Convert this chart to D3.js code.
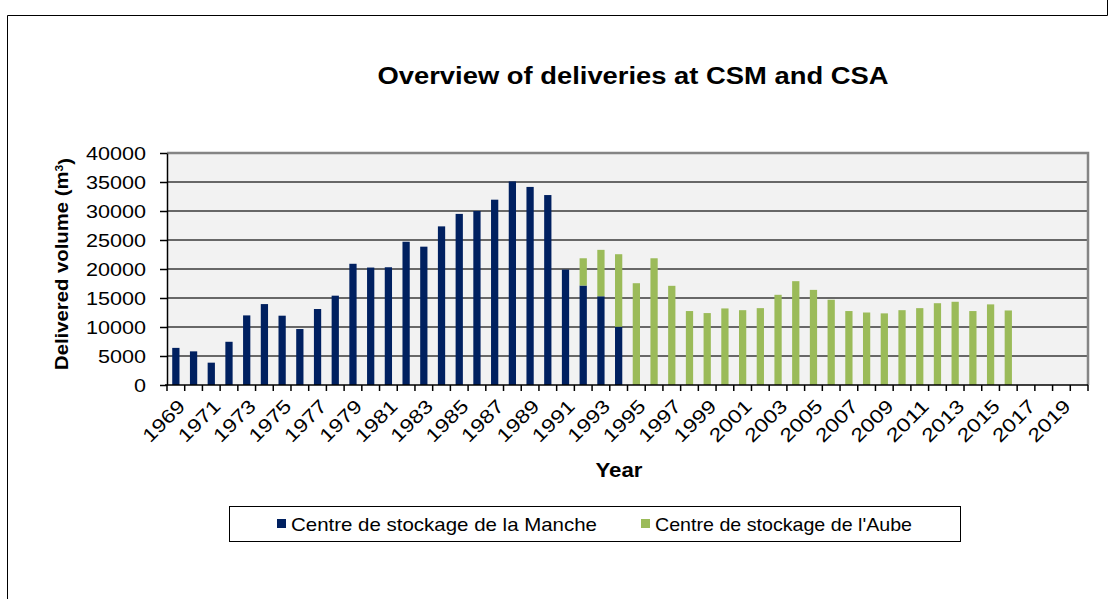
<!DOCTYPE html>
<html>
<head>
<meta charset="utf-8">
<script src="https://cdn.jsdelivr.net/npm/d3@7"></script>
<style>
  html, body { margin: 0; padding: 0; background: #ffffff; }
  svg { display: block; font-family: 'Liberation Sans', Arial, sans-serif; }
</style>
</head>
<body>
<svg id="chart" width="1110" height="599"></svg>
<script>
'use strict';

var years = [
  '1969', '1970', '1971', '1972', '1973', '1974', '1975', '1976', '1977', '1978',
  '1979', '1980', '1981', '1982', '1983', '1984', '1985', '1986', '1987', '1988',
  '1989', '1990', '1991', '1992', '1993', '1994', '1995', '1996', '1997', '1998',
  '1999', '2000', '2001', '2002', '2003', '2004', '2005', '2006', '2007', '2008',
  '2009', '2010', '2011', '2012', '2013', '2014', '2015', '2016', '2017', '2018',
  '2019', '2020'
];

// Centre de stockage de la Manche (CSM), m3
var manche = [
  6400, 5800, 3850, 7450, 12000, 13950, 11950, 9650, 13100, 15400,
  20900, 20250, 20300, 24700, 23850, 27350, 29500, 30000, 31950, 35100,
  34150, 32750, 19900, 17150, 15300, 10050, 0, 0, 0, 0,
  0, 0, 0, 0, 0, 0, 0, 0, 0, 0,
  0, 0, 0, 0, 0, 0, 0, 0, 0, 0,
  0, 0
];

// Centre de stockage de l'Aube (CSA), m3
var aube = [
  0, 0, 0, 0, 0, 0, 0, 0, 0, 0,
  0, 0, 0, 0, 0, 0, 0, 0, 0, 0,
  0, 0, 0, 4700, 8000, 12500, 17550, 21850, 17100, 12750,
  12400, 13200, 12900, 13250, 15550, 17900, 16400, 14700, 12750, 12500,
  12350, 12900, 13250, 14100, 14350, 12750, 13900, 12850, 0, 0,
  0, 0
];

var yTicks = [0, 5000, 10000, 15000, 20000, 25000, 30000, 35000, 40000];
var seriesNames = ['Centre de stockage de la Manche', 'Centre de stockage de l\'Aube'];
var seriesColors = ['#002060', '#9bbb59'];

var plot = { left: 167, right: 1088, top: 153, bottom: 385 };

var svg = d3.select('#chart');

// outer frame of the cropped figure
svg.append('line')
  .attr('x1', 7.5).attr('y1', 15.5).attr('x2', 1107.5).attr('y2', 15.5)
  .attr('stroke', '#000').attr('stroke-width', 1);
svg.append('line')
  .attr('x1', 7.5).attr('y1', 15.5).attr('x2', 7.5).attr('y2', 599)
  .attr('stroke', '#000').attr('stroke-width', 1);
svg.append('line')
  .attr('x1', 1107.5).attr('y1', 0).attr('x2', 1107.5).attr('y2', 15.5)
  .attr('stroke', '#000').attr('stroke-width', 1);

var xCat = d3.scaleBand()
  .domain(years)
  .range([plot.left, plot.right]);

var xBar = d3.scaleBand()
  .domain(years)
  .range([plot.left, plot.right])
  .paddingInner(0.59)
  .paddingOuter(0.295);

var y = d3.scaleLinear()
  .domain([0, 40000])
  .range([plot.bottom, plot.top]);

svg.append('rect')
  .attr('x', plot.left)
  .attr('y', plot.top)
  .attr('width', plot.right - plot.left)
  .attr('height', plot.bottom - plot.top)
  .attr('fill', '#f2f2f2');

// gridlines
svg.append('g')
  .selectAll('line')
  .data(yTicks.filter(function(d) { return d > 0 && d < 40000; }))
  .enter()
  .append('line')
  .attr('x1', plot.left)
  .attr('x2', plot.right)
  .attr('y1', function(d) { return y(d); })
  .attr('y2', function(d) { return y(d); })
  .attr('stroke', '#3a3a3a')
  .attr('stroke-width', 1.5);

// plot border (top and right)
svg.append('path')
  .attr('d', 'M' + plot.left + ',' + y(40000) + 'H' + plot.right + 'V' + plot.bottom)
  .attr('fill', 'none')
  .attr('stroke', '#858585')
  .attr('stroke-width', 2.5);

// stacked bars
var rows = years.map(function(yr, i) {
  return { year: yr, manche: manche[i], aube: aube[i] };
});
var stacked = d3.stack().keys(['manche', 'aube'])(rows);

svg.append('g')
  .selectAll('g')
  .data(stacked)
  .enter()
  .append('g')
  .attr('fill', function(d, i) { return seriesColors[i]; })
  .selectAll('rect')
  .data(function(d) { return d.filter(function(p) { return p[1] > p[0]; }); })
  .enter()
  .append('rect')
  .attr('x', function(d) { return xBar(d.data.year); })
  .attr('width', xBar.bandwidth())
  .attr('y', function(d) { return y(d[1]); })
  .attr('height', function(d) { return y(d[0]) - y(d[1]); });

// y axis
var yAxis = svg.append('g')
  .attr('transform', 'translate(' + plot.left + ',0)')
  .call(d3.axisLeft(y).tickValues(yTicks).tickSize(7).tickSizeOuter(0).tickFormat(d3.format('d')));
yAxis.select('.domain').attr('stroke', '#000').attr('stroke-width', 1.5);
yAxis.selectAll('.tick line').attr('stroke', '#000').attr('stroke-width', 1.5);
yAxis.selectAll('.tick text')
  .attr('x', -21)
  .attr('dy', '0.36em')
  .attr('fill', '#000')
  .style('font-size', '19px')
  .attr('textLength', function(d) { return String(d).length * 12; })
  .attr('lengthAdjust', 'spacingAndGlyphs');

// x axis: ticks at category boundaries
svg.append('line')
  .attr('x1', plot.left - 2)
  .attr('x2', plot.right)
  .attr('y1', plot.bottom)
  .attr('y2', plot.bottom)
  .attr('stroke', '#000')
  .attr('stroke-width', 1.5);

var boundaries = years.map(function(yr) { return xCat(yr); }).concat([plot.right]);
svg.append('g')
  .selectAll('line')
  .data(boundaries)
  .enter()
  .append('line')
  .attr('x1', function(d) { return d; })
  .attr('x2', function(d) { return d; })
  .attr('y1', plot.bottom)
  .attr('y2', plot.bottom + 6)
  .attr('stroke', '#000')
  .attr('stroke-width', 1.5);

var labelYears = years.filter(function(d, i) { return i % 2 === 0; });
svg.append('g')
  .selectAll('text')
  .data(labelYears)
  .enter()
  .append('text')
  .attr('transform', function(d) {
    var cx = xCat(d) + xCat.bandwidth() / 2;
    return 'translate(' + (cx + 1) + ',' + 398 + ') rotate(-45)';
  })
  .attr('text-anchor', 'end')
  .attr('dy', '0.7em')
  .style('font-size', '19px')
  .attr('textLength', 51)
  .attr('lengthAdjust', 'spacingAndGlyphs')
  .text(function(d) { return d; });

// titles
svg.append('text')
  .attr('x', 633)
  .attr('y', 84)
  .attr('text-anchor', 'middle')
  .style('font-size', '23px')
  .style('font-weight', 'bold')
  .attr('textLength', 511)
  .attr('lengthAdjust', 'spacingAndGlyphs')
  .text('Overview of deliveries at CSM and CSA');

var yTitle = svg.append('text')
  .attr('transform', 'translate(68,264) rotate(-90)')
  .attr('text-anchor', 'middle')
  .style('font-size', '18.5px')
  .style('font-weight', 'bold')
  .attr('textLength', 212)
  .attr('lengthAdjust', 'spacingAndGlyphs');
yTitle.append('tspan').text('Delivered volume (m');
yTitle.append('tspan').attr('dy', '-0.45em').style('font-size', '11px').text('3');
yTitle.append('tspan').attr('dy', '0.45em').text(')');

svg.append('text')
  .attr('x', 619)
  .attr('y', 477)
  .attr('text-anchor', 'middle')
  .style('font-size', '20px')
  .style('font-weight', 'bold')
  .attr('textLength', 47)
  .attr('lengthAdjust', 'spacingAndGlyphs')
  .text('Year');

// legend
var legend = svg.append('g');
legend.append('rect')
  .attr('x', 229.5)
  .attr('y', 506.5)
  .attr('width', 731)
  .attr('height', 35)
  .attr('fill', '#fff')
  .attr('stroke', '#000')
  .attr('stroke-width', 1);

var legendItems = [
  { name: seriesNames[0], color: seriesColors[0], x: 277, width: 306 },
  { name: seriesNames[1], color: seriesColors[1], x: 641, width: 257 }
];
var item = legend.selectAll('g.item')
  .data(legendItems)
  .enter()
  .append('g')
  .attr('class', 'item')
  .attr('transform', function(d) { return 'translate(' + d.x + ',519)'; });
item.append('rect')
  .attr('width', 9)
  .attr('height', 9)
  .attr('fill', function(d) { return d.color; });
item.append('text')
  .attr('x', 14)
  .attr('y', 5)
  .attr('dy', '0.36em')
  .style('font-size', '19px')
  .attr('textLength', function(d) { return d.width; })
  .attr('lengthAdjust', 'spacingAndGlyphs')
  .text(function(d) { return d.name; });
</script>
</body>
</html>
